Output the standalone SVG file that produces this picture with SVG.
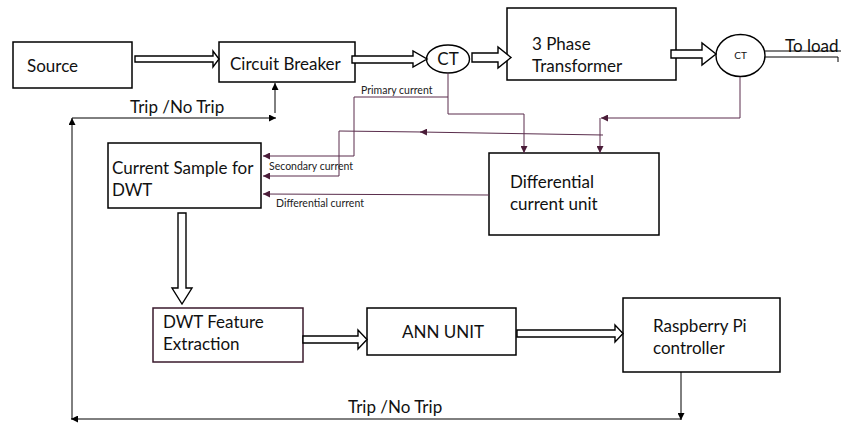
<svg xmlns="http://www.w3.org/2000/svg" width="841" height="424" viewBox="0 0 841 424">
<defs>
<marker id="ah" viewBox="0 0 10 10" refX="10" refY="5" markerWidth="7" markerHeight="7" markerUnits="userSpaceOnUse" orient="auto">
<path d="M0,0 L10,5 L0,10 z" fill="#000"/>
</marker>
<marker id="ahp" viewBox="0 0 10 10" refX="10" refY="5" markerWidth="7" markerHeight="7" markerUnits="userSpaceOnUse" orient="auto">
<path d="M0,0 L10,5 L0,10 z" fill="#4a1c38"/>
</marker>
</defs>
<style>
.box{fill:#fff;stroke:#000;stroke-width:1.5}
.t{font-family:Lato,"Open Sans","Liberation Sans",sans-serif;font-size:17px;fill:#111}
.s{font-family:Lato,"Open Sans","Liberation Sans",sans-serif;font-size:10.5px;fill:#222}
.ha{fill:#fff;stroke:#000;stroke-width:1.4;stroke-linejoin:miter}
.c{fill:none;stroke:#5a2d4c;stroke-width:1}
.k{fill:none;stroke:#000;stroke-width:1}
</style>
<rect width="841" height="424" fill="#fff"/>

<g id="source"><rect class="box" x="13" y="42" width="119" height="46"/><text class="t" x="27" y="72">Source</text></g>
<g id="circuit-breaker"><rect class="box" x="219" y="42" width="136" height="40"/><text class="t" x="230" y="70">Circuit Breaker</text></g>
<g id="ct1"><ellipse cx="448" cy="59" rx="21.5" ry="14" fill="#fff" stroke="#000" stroke-width="1.4"/><text class="t" x="448" y="65" text-anchor="middle">CT</text></g>
<g id="transformer"><rect class="box" x="507" y="8" width="169" height="72"/><text class="t" x="532" y="50">3 Phase</text><text class="t" x="532" y="72">Transformer</text></g>
<g id="ct2"><ellipse cx="740.5" cy="55.5" rx="24.5" ry="21" fill="#fff" stroke="#000" stroke-width="1.4"/><text class="t" x="740.5" y="59" text-anchor="middle" style="font-size:10px">CT</text></g>
<g id="to-load"><text class="t" x="785" y="52">To load</text></g>
<g id="current-sample"><rect class="box" x="108" y="143" width="153" height="65"/><text class="t" x="112" y="174">Current Sample for</text><text class="t" x="112" y="196">DWT</text></g>
<g id="differential-unit"><rect class="box" x="489" y="153" width="170" height="82"/><text class="t" x="510" y="188">Differential</text><text class="t" x="510" y="210">current unit</text></g>
<g id="dwt-feature"><rect class="box" x="153" y="308" width="150" height="54" style="stroke:#3a1a2c"/><text class="t" x="163" y="328">DWT Feature</text><text class="t" x="163" y="350">Extraction</text></g>
<g id="ann-unit"><rect class="box" x="367" y="308" width="149" height="47"/><text class="t" x="402" y="338">ANN UNIT</text></g>
<g id="raspberry"><rect class="box" x="623" y="298" width="157" height="74"/><text class="t" x="653" y="332">Raspberry Pi</text><text class="t" x="653" y="354">controller</text></g>

<g id="connectors">
<polygon class="ha" points="135,56 213,56 213,51 219,59 213,67 213,62 135,62"/>
<polygon class="ha" points="352,56 413,56 413,51 427,59 413,67 413,63 352,63"/>
<polygon class="ha" points="472,53 498,53 498,47 511,57.5 498,68 498,62 472,62"/>
<polygon class="ha" points="671,50 702,50 702,43 716,54 702,65 702,58 671,58"/>
<path class="k" d="M765,51 H841 M765,57 H838 V62"/>
<polygon class="ha" points="178,213 186,213 186,288 192,288 182,304 172,288 178,288"/>
<polygon class="ha" points="303,336 358,336 358,330 367,339.5 358,349 358,343 303,343"/>
<polygon class="ha" points="517,330 615,330 615,325 623,333.5 615,342 615,337 517,337"/>

<path class="c" d="M448,73 V97 H354 V156 H263" marker-end="url(#ahp)"/>
<path class="c" d="M448,97 V114 H524 V153" marker-end="url(#ahp)"/>
<path class="c" d="M740,77 V118 H601" marker-end="url(#ahp)"/>
<path class="c" d="M600,118 V153" marker-end="url(#ahp)"/>
<path class="c" d="M603,135 L420,132" marker-end="url(#ahp)"/>
<path class="c" d="M422,132 L339,131 V176 H263" marker-end="url(#ahp)"/>
<path class="c" d="M489,195 L263,194" marker-end="url(#ahp)"/>
<text class="s" x="361" y="94">Primary current</text>
<text class="s" x="269" y="170">Secondary current</text>
<text class="s" x="276" y="207">Differential current</text>

<path class="k" d="M681,372 V420" marker-end="url(#ah)"/>
<path class="k" d="M681,419 H71" marker-end="url(#ah)"/>
<path class="k" d="M72,419 V118" marker-end="url(#ah)"/>
<path class="k" d="M72,118 H276" marker-end="url(#ah)"/>
<path class="k" d="M275,113 V83" marker-end="url(#ah)"/>
<text class="t" x="130" y="113">Trip /No Trip</text>
<text class="t" x="348" y="413">Trip /No Trip</text>
</g>
</svg>
